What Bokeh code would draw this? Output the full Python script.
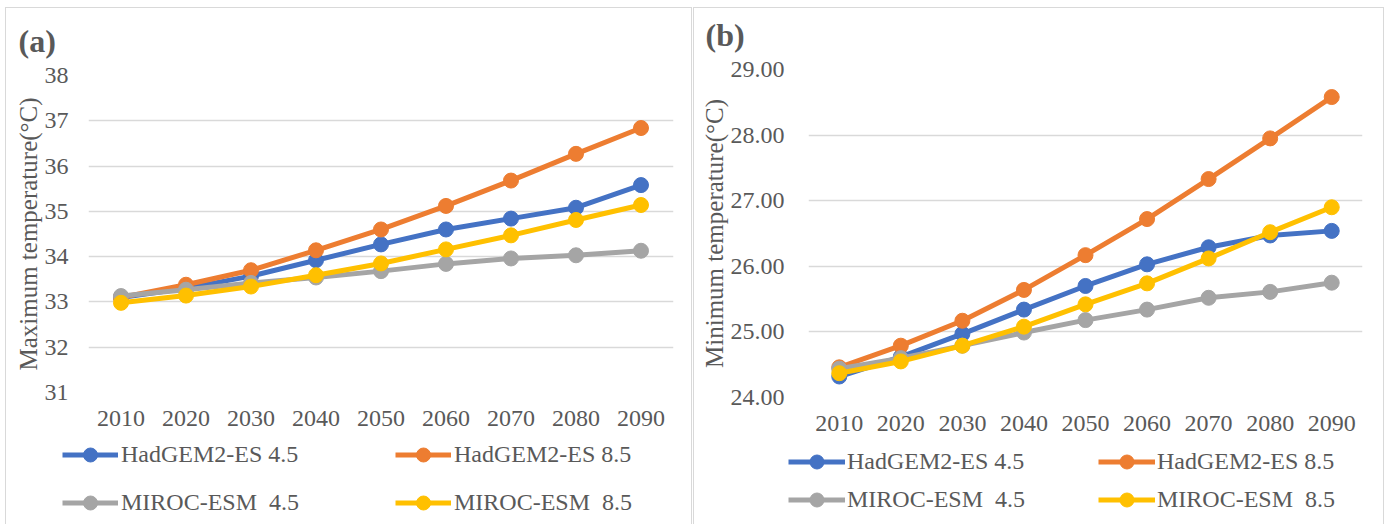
from bokeh.plotting import figure
from bokeh.models import (Range1d, FactorRange, Legend, LegendItem, Label, Spacer,
                          FixedTicker, NumeralTickFormatter)
from bokeh.layouts import row, column
from bokeh.embed import file_html
from bokeh.resources import INLINE

years = ["2010", "2020", "2030", "2040", "2050", "2060", "2070", "2080", "2090"]
series_names = ["HadGEM2-ES 4.5", "HadGEM2-ES 8.5", "MIROC-ESM  4.5", "MIROC-ESM  8.5"]
colors = ["#4472C4", "#ED7D31", "#A5A5A5", "#FFC000"]

tmax_had45 = [33.10, 33.30, 33.57, 33.92, 34.27, 34.60, 34.84, 35.08, 35.58]
tmax_had85 = [33.10, 33.38, 33.70, 34.14, 34.60, 35.12, 35.68, 36.27, 36.84]
tmax_miroc45 = [33.13, 33.27, 33.42, 33.54, 33.68, 33.84, 33.96, 34.03, 34.13]
tmax_miroc85 = [32.98, 33.14, 33.34, 33.59, 33.85, 34.16, 34.47, 34.81, 35.14]

tmin_had45 = [24.32, 24.62, 24.97, 25.34, 25.70, 26.03, 26.29, 26.47, 26.54]
tmin_had85 = [24.46, 24.79, 25.17, 25.64, 26.17, 26.72, 27.33, 27.95, 28.58]
tmin_miroc45 = [24.44, 24.60, 24.79, 24.99, 25.18, 25.34, 25.52, 25.61, 25.75]
tmin_miroc85 = [24.37, 24.55, 24.79, 25.08, 25.42, 25.74, 26.12, 26.52, 26.90]

tmax_ticks = [31, 32, 33, 34, 35, 36, 37, 38]
tmin_ticks = [24, 25, 26, 27, 28, 29]

FONT = "Liberation Serif"
TXT = "#595959"
GRID = "#D9D9D9"
BORDER = "1px solid #D9D9D9"


def blank_fig(width, height, x_range=None, y_range=None):
    f = figure(width=width, height=height,
               x_range=x_range if x_range is not None else Range1d(0, 1),
               y_range=y_range if y_range is not None else Range1d(0, 1),
               x_axis_type=None, y_axis_type=None, output_backend="svg",
               toolbar_location=None, min_border=0)
    f.min_border_left = f.min_border_right = f.min_border_top = f.min_border_bottom = 0
    f.frame_align = False
    f.outline_line_color = None
    f.xgrid.visible = False
    f.ygrid.visible = False
    return f


def make_panel(width, heights, borders, yr, ticks, fmt, ytitle, series, tag, tag_pos, leg):
    # header strip carrying the panel tag
    head = blank_fig(width, heights[0])
    head.add_layout(Label(x=tag_pos[0], y=tag_pos[1], x_units="screen", y_units="screen",
                          text=tag, text_font=FONT, text_font_size="32px",
                          text_font_style="bold", text_color=TXT,
                          text_baseline="middle", text_align="left"))

    p = figure(width=width, height=heights[1],
               x_range=FactorRange(*years, range_padding=0),
               y_range=Range1d(yr[0], yr[1]), output_backend="svg",
               toolbar_location=None, min_border_left=borders[0],
               min_border_right=borders[1], min_border_top=borders[2],
               min_border_bottom=borders[3])
    p.frame_align = False
    p.outline_line_color = None
    p.xgrid.grid_line_color = None
    p.ygrid.grid_line_color = GRID
    p.ygrid.grid_line_width = 1.5
    p.yaxis.ticker = FixedTicker(ticks=ticks)
    if fmt:
        p.yaxis.formatter = NumeralTickFormatter(format=fmt)
    for ax in (p.xaxis[0], p.yaxis[0]):
        ax.axis_line_color = None
        ax.major_tick_line_color = None
        ax.minor_tick_line_color = None
        ax.major_tick_out = 0
        ax.major_tick_in = 0
        ax.major_label_text_font = FONT
        ax.major_label_text_font_size = "24px"
        ax.major_label_text_color = TXT
    p.xaxis.major_label_standoff = 18
    p.yaxis.major_label_standoff = leg["ystand"]
    p.yaxis.axis_label = ytitle
    p.yaxis.axis_label_text_font = FONT
    p.yaxis.axis_label_text_font_size = "25px"
    p.yaxis.axis_label_text_font_style = "normal"
    p.yaxis.axis_label_text_color = TXT
    p.yaxis.axis_label_standoff = 0

    for vals, c in zip(series, colors):
        p.line(years, vals, line_color=c, line_width=5)
        p.scatter(years, vals, size=15, fill_color=c, line_color=c)

    # legend strip: same series drawn outside its visible range, only the legend shows
    lf = blank_fig(width, heights[2], x_range=FactorRange(*years, range_padding=0),
                   y_range=Range1d(yr[1] + 100, yr[1] + 101))
    items = []
    for name, vals, c in zip(series_names, series, colors):
        rl = lf.line(years, vals, line_color=c, line_width=5)
        rs = lf.scatter(years, vals, size=15, fill_color=c, line_color=c)
        items.append(LegendItem(label=name, renderers=[rl, rs]))
    legend = Legend(items=items, orientation="horizontal", ncols=2,
                    location=leg["loc"], glyph_width=leg["gw"], glyph_height=35,
                    label_height=35, label_width=leg["lw"], label_standoff=leg["ls"],
                    spacing=leg["sp"], padding=0, margin=0,
                    label_text_font=FONT, label_text_font_size="24px",
                    label_text_color=TXT, border_line_color=None,
                    background_fill_alpha=0)
    lf.add_layout(legend, "center")

    col = column(head, p, lf)
    col.styles = {"border-top": BORDER, "border-left": BORDER, "border-right": BORDER}
    return col


ca = make_panel(685, (52, 380, 84), (82, 18, 15, 48), (31, 38), tmax_ticks, None,
                "Maximum temperature(°C)",
                [tmax_had45, tmax_had85, tmax_miroc45, tmax_miroc85],
                "(a)", (12, 20),
                {"loc": (56, 4), "gw": 56, "lw": 261, "ls": 3, "sp": 13, "ystand": 20})

cb = make_panel(689, (46, 389, 81), (114, 21, 15, 46), (24, 29), tmin_ticks, "0.00",
                "Minimum temperature(°C)",
                [tmin_had45, tmin_had85, tmin_miroc45, tmin_miroc85],
                "(b)", (11, 20),
                {"loc": (94, 7), "gw": 57, "lw": 248, "ls": 2, "sp": 3, "ystand": 24})

layout = column(Spacer(height=7),
                row(Spacer(width=5), ca, Spacer(width=1), cb))
open("out.html", "w").write(file_html(layout, INLINE))
